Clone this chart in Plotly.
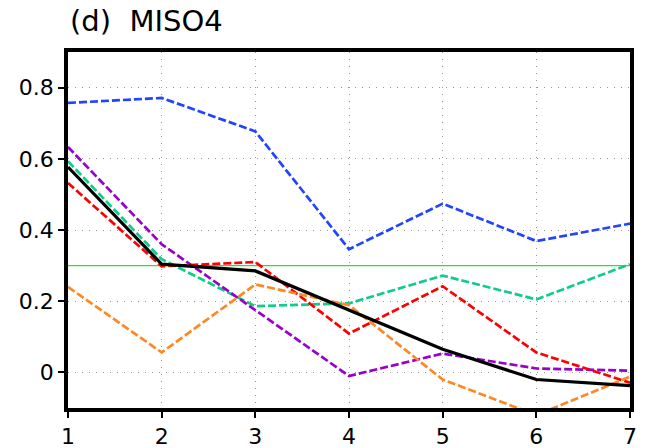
import plotly.graph_objects as go

x = [1, 2, 3, 4, 5, 6, 7]
blue = [0.757, 0.771, 0.677, 0.346, 0.474, 0.369, 0.418]
teal = [0.593, 0.318, 0.186, 0.194, 0.272, 0.205, 0.304]
purple = [0.633, 0.360, 0.175, -0.010, 0.053, 0.011, 0.005]
red = [0.532, 0.298, 0.310, 0.109, 0.242, 0.056, -0.029]
orange = [0.240, 0.056, 0.247, 0.189, -0.020, -0.120, -0.012]
black = [0.577, 0.304, 0.285, 0.175, 0.065, -0.020, -0.037]
threshold = 0.3
yticks = [0, 0.2, 0.4, 0.6, 0.8]
yticklabels = ["0", "0.2", "0.4", "0.6", "0.8"]

fig = go.Figure()
fig.add_hline(y=threshold, line=dict(color="#33dd33", width=1.3), layer="below")

series = [
    (blue, "#2244ff"),
    (teal, "#11cc88"),
    (purple, "#9900cc"),
    (red, "#ff0000"),
    (orange, "#ff8822"),
]
for ys, c in series:
    fig.add_trace(go.Scatter(x=x, y=ys, mode="lines",
                             line=dict(color=c, width=2.7, dash="8px,3px"), showlegend=False))
fig.add_trace(go.Scatter(x=x, y=black, mode="lines", line=dict(color="black", width=3.2), showlegend=False))

fig.update_layout(
    width=645, height=448,
    margin=dict(l=68, r=15, t=52, b=40, autoexpand=False),
    plot_bgcolor="white", paper_bgcolor="white",
    font=dict(family="DejaVu Sans", color="black"),
    showlegend=False,
    annotations=[dict(text="(d)  MISO4", xref="paper", yref="paper", x=0.0, y=1.035,
                      xanchor="left", yanchor="bottom", showarrow=False,
                      font=dict(size=29, family="DejaVu Sans"))],
)
common = dict(showline=True, linecolor="black", linewidth=3.5, mirror=True,
              ticks="outside", ticklen=6, tickwidth=2, tickcolor="black",
              showgrid=True, gridcolor="#999999", griddash="1px,6px", gridwidth=1.2,
              tickfont=dict(size=22), zeroline=False, automargin=False)
fig.update_xaxes(range=[1, 7], tickvals=x, ticktext=[str(v) for v in x], **common)
fig.update_yaxes(range=[-0.1, 0.9], tickvals=yticks, ticktext=yticklabels, **common)

fig.write_html("out.html", config={"displayModeBar": False},
               post_script="document.body.style.margin='0';document.body.style.overflow='hidden';")
